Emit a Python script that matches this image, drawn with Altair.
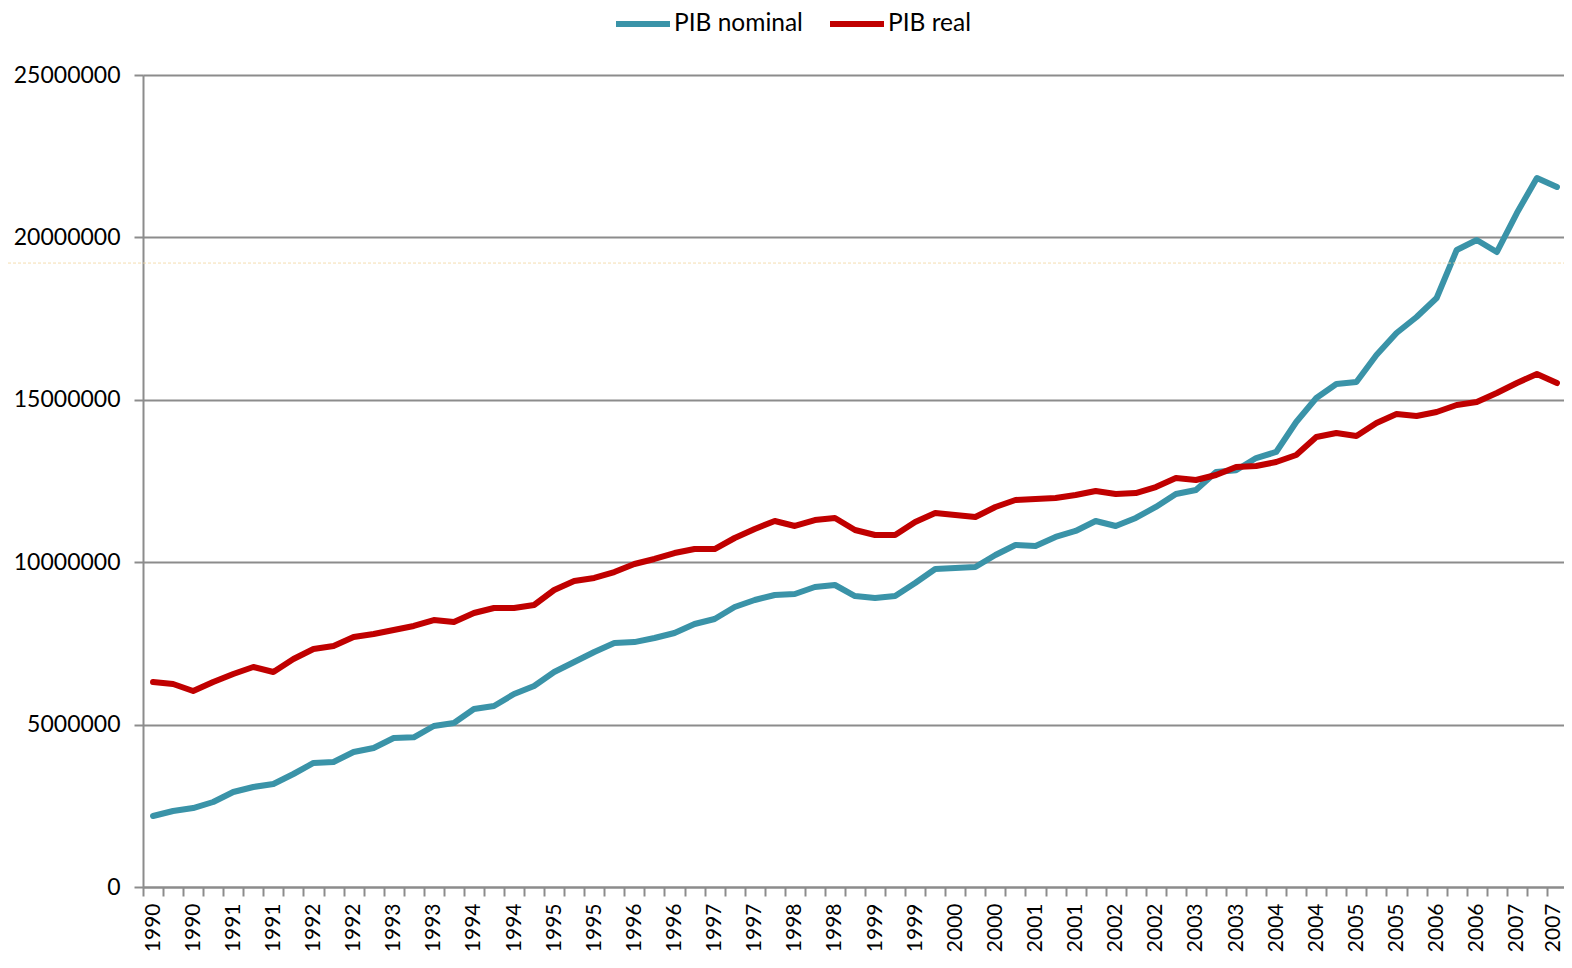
import altair as alt
import pandas as pd

# Year label shown under every other quarter (1990T1 .. 2007T3)
x_labels = ["1990", "1990", "1991", "1991", "1992", "1992", "1993", "1993",
            "1994", "1994", "1995", "1995", "1996", "1996", "1997", "1997",
            "1998", "1998", "1999", "1999", "2000", "2000", "2001", "2001",
            "2002", "2002", "2003", "2003", "2004", "2004", "2005", "2005",
            "2006", "2006", "2007", "2007"]

pib_nominal = [2186000, 2340000, 2432000, 2617000, 2925000, 3079000, 3171000, 3479000,
               3818000, 3849000, 4156000, 4280000, 4587000, 4610000, 4957000, 5049000,
               5480000, 5573000, 5942000, 6188000, 6619000, 6927000, 7235000, 7512000,
               7540000, 7666000, 7820000, 8097000, 8251000, 8621000, 8836000, 8990000,
               9021000, 9236000, 9298000, 8959000, 8898000, 8959000, 9360000, 9791000,
               9822000, 9852000, 10222000, 10530000, 10499000, 10776000, 10961000, 11268000,
               11115000, 11361000, 11700000, 12100000, 12223000, 12777000, 12830000, 13208000,
               13393000, 14317000, 15055000, 15486000, 15548000, 16379000, 17057000, 17549000,
               18134000, 19612000, 19920000, 19550000, 20751000, 21829000, 21552000]

pib_real = [6312000, 6250000, 6034000, 6312000, 6558000, 6773000, 6619000, 7020000,
            7328000, 7420000, 7697000, 7789000, 7913000, 8036000, 8220000, 8159000,
            8436000, 8590000, 8590000, 8682000, 9144000, 9421000, 9514000, 9698000,
            9945000, 10099000, 10283000, 10406000, 10406000, 10745000, 11022000, 11268000,
            11115000, 11299000, 11361000, 10991000, 10837000, 10837000, 11238000, 11515000,
            11453000, 11392000, 11700000, 11915000, 11946000, 11977000, 12069000, 12192000,
            12100000, 12130000, 12315000, 12592000, 12531000, 12685000, 12931000, 12962000,
            13085000, 13300000, 13855000, 13978000, 13885000, 14286000, 14563000, 14501000,
            14624000, 14840000, 14932000, 15209000, 15517000, 15794000, 15517000]

series = ["PIB nominal", "PIB real"]
colors = ["#3A93A8", "#C00000"]
y_ticks = [0, 5000000, 10000000, 15000000, 20000000, 25000000]
faint_line_value = [19210000]   # faint dotted guide visible in the original picture

rows = []
for i, (n, r) in enumerate(zip(pib_nominal, pib_real)):
    rows.append({"idx": i, "serie": series[0], "valor": n})
    rows.append({"idx": i, "serie": series[1], "valor": r})
df = pd.DataFrame(rows)

labels_js = "[" + ",".join("'" + l + "'" for l in x_labels) + "]"
label_expr = "datum.value % 2 == 0 ? " + labels_js + "[datum.value / 2] : ''"
last_idx = len(pib_nominal) - 1

FONT = "Lato"
GRAY = "#8c8c8c"

lines = alt.Chart(df).mark_line(strokeWidth=6, strokeCap="round", strokeJoin="round").encode(
    x=alt.X("idx:O",
            bandPosition=0.5,
            scale=alt.Scale(type="band", paddingInner=0, paddingOuter=0),
            axis=alt.Axis(title=None, tickBand="extent", labelAngle=270,
                          labelExpr=label_expr, labelOverlap=False,
                          labelFontSize=21, labelColor="black", labelFont=FONT,
                          labelOffset={"condition": {"test": f"datum.value == {last_idx}",
                                                     "value": -3},
                                       "value": 0},
                          labelPadding=7, tickSize=9, tickColor=GRAY, tickWidth=2,
                          domainColor=GRAY, domainWidth=2, grid=False)),
    y=alt.Y("valor:Q",
            scale=alt.Scale(domain=[0, 25000000], nice=False),
            axis=alt.Axis(title=None, values=y_ticks, format="d",
                          labelFontSize=23, labelColor="black", labelFont=FONT,
                          labelPadding=14, tickSize=9, tickColor=GRAY, tickWidth=2,
                          domainColor=GRAY, domainWidth=2,
                          grid=True, gridColor=GRAY, gridWidth=2)),
    color=alt.Color("serie:N",
                    scale=alt.Scale(domain=series, range=colors),
                    legend=alt.Legend(title=None, orient="none", direction="horizontal",
                                      legendX=470, legendY=-81, padding=0,
                                      symbolType="stroke", symbolSize=2916,
                                      symbolStrokeWidth=6, labelFontSize=24.5,
                                      labelFont=FONT, labelColor="black",
                                      labelOffset=1, columnPadding=15)),
)

faint = alt.Chart(pd.DataFrame({"v": faint_line_value})).mark_rule(
    color="#f2d49c", strokeWidth=1, strokeDash=[3, 2], opacity=0.8
).encode(
    y="v:Q",
    x=alt.value(-135),
    x2=alt.value(1428),
)

chart = alt.layer(lines, faint).properties(
    width=1424,
    height=812,
    padding={"left": 135, "top": 67, "right": -3, "bottom": 67},
    autosize=alt.AutoSizeParams(type="none"),
).configure_view(stroke=None).configure(font=FONT)

chart.save("out.html", embed_options={"renderer": "svg", "actions": False})
